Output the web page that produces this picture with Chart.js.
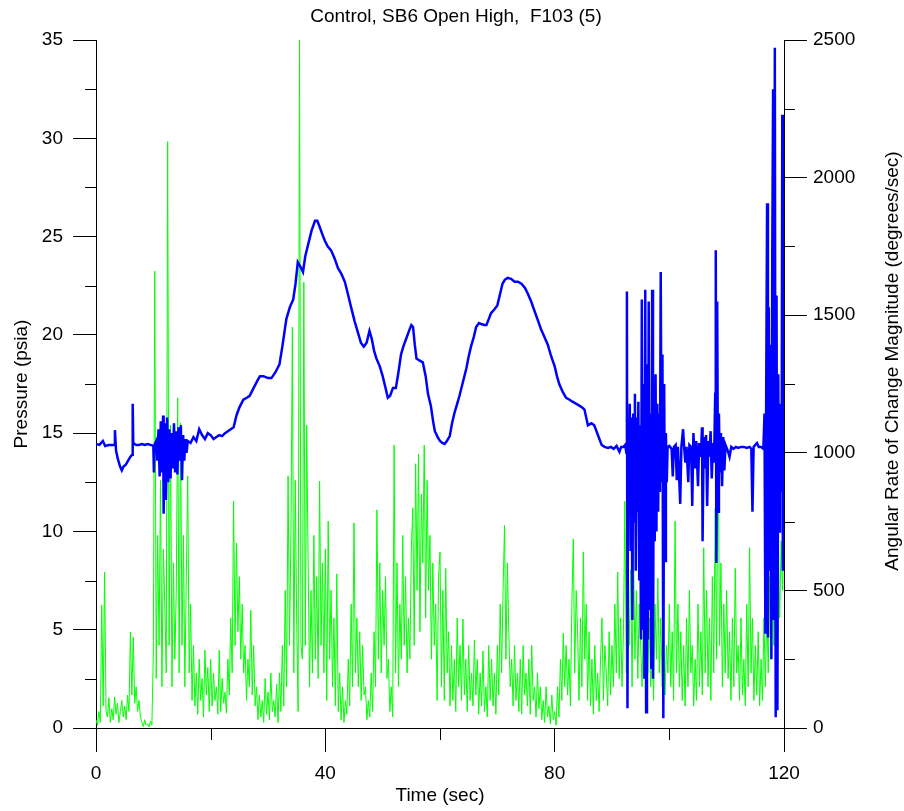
<!DOCTYPE html>
<html>
<head>
<meta charset="utf-8">
<script src="https://cdn.jsdelivr.net/npm/chart.js@4.4.0/dist/chart.umd.min.js"></script>
<style>
  html, body { margin: 0; padding: 0; background: #fff; }
</style>
</head>
<body>
<canvas id="chartF103" width="904" height="811"></canvas>
<script>
const chartTitle = 'Control, SB6 Open High,  F103 (5)';
const xTitle = 'Time (sec)';
const yTitle = 'Pressure (psia)';
const y2Title = 'Angular Rate of Change Magnitude (degrees/sec)';

// pressure trace, [time (sec), psia]
const pressureTrace = [
  [0,14.45],[0.6,14.4],[1.2,14.6],[1.6,14.35],[2.2,14.4],[2.8,14.4],[3.2,14.4],[3.3,15.15],[3.5,14.1],[3.8,13.7],
  [4.2,13.3],[4.5,13.1],[4.8,13.3],[5.2,13.4],[5.6,13.6],[6.0,13.8],[6.3,13.9],[6.4,16.5],[6.5,14.5],[7.0,14.4],
  [7.5,14.4],[8.0,14.45],[8.5,14.4],[9.0,14.45],[9.5,14.4],[10.0,14.35],[10.1,13.0],[10.2,14.4],[10.5,14.6],[10.7,13.6],
  [10.9,15.2],[11.1,12.8],[11.3,15.6],[11.5,13.0],[11.7,15.9],[11.8,10.9],[12.0,15.5],[12.2,11.6],[12.4,15.8],[12.6,12.5],
  [12.8,15.2],[13.0,12.7],[13.2,15.0],[13.4,13.2],[13.6,15.5],[13.8,13.0],[14.0,15.1],[14.2,12.9],[14.4,15.3],[14.6,13.6],
  [14.8,15.4],[15.0,12.6],[15.2,14.9],[15.4,13.6],[15.6,14.7],[15.8,14.0],[16.0,14.6],[16.5,14.5],[17.0,14.8],[17.5,14.6],
  [18.0,15.2],[18.5,14.9],[19.0,14.7],[19.5,15.0],[20.0,14.9],[20.5,14.7],[21.0,14.8],[21.5,14.9],[22.0,14.85],[22.5,15.0],
  [23.0,15.1],[23.5,15.2],[24.0,15.3],[24.5,15.9],[25.0,16.3],[25.7,16.7],[26.3,16.8],[26.8,16.9],[27.5,17.3],[28.2,17.7],
  [28.6,17.9],[29.2,17.9],[30.0,17.8],[30.6,17.8],[31.3,18.1],[32.0,18.5],[32.5,19.4],[33.2,20.8],[33.8,21.4],[34.4,21.8],
  [34.8,22.6],[35.2,23.7],[35.6,23.5],[36.1,23.2],[36.5,24.0],[37.0,24.6],[37.6,25.3],[38.2,25.8],[38.6,25.8],[39.0,25.5],
  [39.5,25.1],[39.9,24.8],[40.4,24.5],[41.0,24.3],[41.6,23.9],[42.2,23.4],[42.8,23.1],[43.4,22.7],[44.0,22.0],[44.5,21.4],
  [45.1,20.7],[45.7,20.1],[46.2,19.6],[46.7,19.4],[47.2,19.6],[47.7,20.2],[48.1,19.8],[48.5,19.2],[48.9,18.8],[49.5,18.4],
  [50.0,17.9],[50.5,17.3],[50.9,16.8],[51.3,16.9],[51.8,17.3],[52.3,17.3],[52.7,18.0],[53.2,19.0],[53.6,19.4],[54.1,19.8],
  [54.6,20.2],[55.0,20.5],[55.3,20.4],[55.6,19.5],[55.9,18.8],[56.4,18.7],[57.0,18.6],[57.5,17.9],[57.9,17.0],[58.4,16.4],
  [58.8,15.6],[59.1,15.1],[59.6,14.8],[60.0,14.6],[60.4,14.5],[60.8,14.45],[61.2,14.6],[61.7,14.85],[62.1,15.5],[62.5,16.0],
  [63.0,16.5],[63.4,16.9],[64.0,17.6],[64.6,18.3],[65.0,18.9],[65.4,19.4],[65.9,19.9],[66.3,20.4],[66.8,20.6],[67.2,20.55],
  [67.7,20.5],[68.1,20.5],[68.5,20.8],[68.9,21.1],[69.5,21.3],[70.0,21.5],[70.5,22.1],[70.9,22.6],[71.3,22.8],[71.8,22.9],
  [72.4,22.85],[73.0,22.7],[73.6,22.7],[74.2,22.6],[74.8,22.4],[75.3,22.1],[75.9,21.7],[76.5,21.2],[77.0,20.8],[77.6,20.3],
  [78.2,19.9],[78.8,19.5],[79.4,18.9],[80.0,18.4],[80.4,17.9],[80.8,17.5],[81.4,17.1],[82.0,16.8],[82.6,16.7],[83.1,16.6],
  [83.7,16.5],[84.3,16.4],[84.8,16.3],[85.2,16.2],[85.5,15.8],[85.8,15.4],[86.4,15.5],[86.9,15.4],[87.3,15.1],[87.8,14.7],
  [88.2,14.4],[88.7,14.3],[89.3,14.25],[89.8,14.3],[90.3,14.2],[90.8,14.35],[91.3,14.05],[91.6,14.3],[92.0,14.3],[92.3,14.4],
  [92.5,14.0],[92.6,22.2],[92.7,1.0],[92.8,14.3],[92.95,12.0],[93.1,16.5],[93.25,9.0],[93.4,15.8],[93.55,5.5],[93.7,16.0],
  [93.85,10.5],[94.0,17.0],[94.15,8.0],[94.3,15.8],[94.45,11.0],[94.6,16.6],[94.75,7.5],[94.9,15.4],[95.05,4.5],[95.2,21.8],
  [95.35,5.0],[95.5,17.5],[95.65,2.5],[95.8,22.3],[95.95,0.8],[96.1,18.5],[96.25,4.5],[96.4,21.7],[96.55,6.0],[96.7,16.0],
  [96.85,3.0],[97.0,22.3],[97.15,2.5],[97.3,17.0],[97.45,9.5],[97.6,18.0],[97.75,10.0],[97.9,16.5],[98.05,11.0],[98.2,16.0],
  [98.35,12.0],[98.5,23.2],[98.65,12.5],[98.8,19.0],[98.95,0.5],[99.1,17.5],[99.25,8.5],[99.4,15.0],[99.55,12.5],[99.7,14.3],
  [100.0,14.35],[100.4,14.2],[100.6,12.8],[100.8,14.3],[101.1,14.4],[101.3,12.6],[101.5,14.3],[101.9,11.4],[102.1,14.3],[102.4,15.2],
  [102.6,14.2],[102.8,13.5],[103.0,14.3],[103.3,12.5],[103.5,14.4],[103.8,14.3],[104.0,11.3],[104.2,15.0],[104.5,13.2],[104.7,14.6],
  [105.0,12.3],[105.2,14.5],[105.5,13.8],[105.7,15.3],[105.8,9.5],[106.0,14.8],[106.2,13.2],[106.4,14.9],[106.6,11.3],[106.8,14.6],
  [107.0,13.8],[107.2,15.1],[107.4,12.7],[107.6,14.5],[107.8,13.5],[108.0,17.0],[108.1,24.3],[108.2,8.4],[108.35,21.7],[108.5,11.0],
  [108.65,16.0],[108.8,13.0],[109.0,15.0],[109.2,12.3],[109.4,14.8],[109.6,13.1],[109.8,14.4],[110.2,14.1],[110.5,13.8],[110.8,14.3],
  [111.2,14.2],[111.6,14.3],[112.0,14.25],[112.5,14.3],[113.0,14.3],[113.5,14.25],[114.0,14.3],[114.3,14.2],[114.5,11.0],[114.7,14.3],
  [115.0,14.4],[115.3,14.5],[115.6,14.3],[116.0,14.3],[116.4,14.2],[116.6,16.0],[116.75,4.8],[116.9,17.5],[117.05,26.7],[117.2,4.6],
  [117.35,21.4],[117.5,8.0],[117.65,19.5],[117.8,3.5],[117.95,24.0],[118.1,32.5],[118.25,5.5],[118.4,34.6],[118.55,0.55],[118.7,22.0],
  [118.85,0.9],[119.0,18.0],[119.15,10.0],[119.3,16.5],[119.45,12.0],[119.6,15.0],[119.7,31.2],[119.8,8.0],[119.9,14.3],[120.0,14.3]
];

// angular rate magnitude (deg/sec), sampled every 0.25 sec from t = 0
const rateStep = 0.25;
const angularRate = [
  30,10,60,20, 447,80,567,60, 40,110,20,70, 30,113,50,90, 20,60,100,40,
  80,30,120,60, 349,120,330,90, 150,60,100,40, 20,5,30,10, 15,4,25,10,
  270,1660,180,700, 300,900,150,650, 450,200,2131,300, 1100,150,600,250, 500,1200,200,1108,
  300,700,150,550, 916,200,450,100, 300,80,200,50, 250,100,180,40, 283,120,220,60,
  250,80,200,100, 150,50,283,60, 180,90,130,54, 250,120,400,200, 825,300,672,350,
  550,250,450,200, 300,100,250,150, 428,120,300,80, 150,30,120,40, 100,20,180,50,
  130,30,200,60, 100,40,160,20, 200,60,300,80, 500,150,916,300, 700,1457,200,900,
  400,60,2500,300, 250,1620,300,1100, 600,150,500,200, 700,250,550,180, 897,300,600,200,
  650,100,752,250, 500,150,400,80, 560,60,200,30, 150,20,100,50, 250,80,450,150,
  745,200,400,150, 350,100,300,120, 150,30,100,40, 200,60,350,150, 793,250,600,200,
  500,300,550,180, 250,60,150,40, 1028,200,600,150, 450,250,700,300, 550,200,400,250,
  650,800,300,960, 500,996,350,850, 600,1028,400,900, 500,700,250,600, 300,450,100,550,
  640,150,500,100, 580,200,350,80, 300,100,250,60, 400,150,300,100, 396,120,250,60,
  300,100,200,80, 320,120,250,50, 200,80,280,60, 150,40,300,100, 250,80,200,50,
  300,120,450,200, 500,736,250,600, 350,150,250,80, 300,100,200,60, 250,50,300,120,
  200,80,250,50, 300,100,150,40, 200,70,150,30, 100,20,150,40, 80,15,120,30,
  60,10,150,40, 250,100,345,150, 300,120,250,80, 450,687,200,500, 350,100,400,150,
  640,250,450,100, 350,80,250,50, 300,100,200,60, 250,400,100,300, 200,80,350,120,
  300,150,450,200, 567,180,400,150, 350,824,200,600, 300,575,150,650, 250,500,180,450,
  300,150,450,200, 597,200,400,150, 350,100,450,250, 545,200,400,150, 350,120,300,200,
  450,150,350,100, 752,200,450,150, 350,100,300,80, 400,150,500,200, 300,80,250,100,
  450,150,350,120, 655,200,500,150, 400,100,550,200, 800,250,1148,300, 600,150,450,200,
  500,180,350,100, 400,150,580,200, 300,100,400,120, 250,80,450,150, 655,200,400,100,
  300,120,350,80, 250,100,400,150, 450,200,550,250, 610,300,650,350, 705,400,680,500,
  700
];

const axisColor = '#000';
const fontFamily = '"Liberation Sans", Arial, sans-serif';
const tickFont = { family: fontFamily, size: 19 };

// short minor ticks + titles (right title reads bottom-to-top like the left one)
const extras = {
  id: 'extras',
  afterDraw(chart) {
    const c = chart.ctx;
    const area = chart.chartArea;
    const { x, y, y2 } = chart.scales;
    c.save();
    c.strokeStyle = axisColor;
    c.lineWidth = 1;
    c.beginPath();
    y.ticks.forEach(t => {
      if (t.value % 5 !== 0) {
        const p = Math.round(y.getPixelForValue(t.value)) + 0.5;
        c.moveTo(area.left - 11, p); c.lineTo(area.left, p);
      }
    });
    y2.ticks.forEach(t => {
      if (t.value % 500 !== 0) {
        const p = Math.round(y2.getPixelForValue(t.value)) + 0.5;
        c.moveTo(area.right, p); c.lineTo(area.right + 11, p);
      }
    });
    x.ticks.forEach(t => {
      if (t.value % 40 !== 0) {
        const p = Math.round(x.getPixelForValue(t.value)) + 0.5;
        c.moveTo(p, area.bottom); c.lineTo(p, area.bottom + 12);
      }
    });
    c.stroke();

    c.fillStyle = '#000';
    c.font = '19px ' + fontFamily;
    c.textAlign = 'center';
    c.textBaseline = 'middle';
    c.fillText(chartTitle, 456, 17);
    c.fillText(xTitle, (area.left + area.right) / 2, 796);
    c.translate(22, (area.top + area.bottom) / 2);
    c.rotate(-Math.PI / 2);
    c.fillText(yTitle, 0, 0);
    c.rotate(Math.PI / 2);
    c.translate(893 - 22, 361 - (area.top + area.bottom) / 2);
    c.rotate(-Math.PI / 2);
    c.fillText(y2Title, 0, 0);
    c.restore();
  }
};

const ctx = document.getElementById('chartF103').getContext('2d');

const myChart = new Chart(ctx, {
  type: 'line',
  data: {
    datasets: [
      {
        label: 'Pressure',
        data: pressureTrace.map(p => ({ x: p[0], y: p[1] })),
        yAxisID: 'y',
        borderColor: '#0000ff',
        borderWidth: 2.5,
        pointRadius: 0,
        tension: 0,
        order: 0
      },
      {
        label: 'Angular Rate',
        data: angularRate.map((v, i) => ({ x: i * rateStep, y: v })),
        yAxisID: 'y2',
        borderColor: '#00ff00',
        borderWidth: 1,
        pointRadius: 0,
        tension: 0,
        order: 1
      }
    ]
  },
  options: {
    responsive: false,
    animation: false,
    events: [],
    layout: { padding: { top: 40, left: 0, right: 0, bottom: 0 } },
    plugins: {
      legend: { display: false },
      title: { display: false },
      tooltip: { enabled: false }
    },
    scales: {
      x: {
        type: 'linear',
        min: 0,
        max: 120,
        afterFit: s => { s.height = 83; },
        border: { display: true, color: axisColor, width: 1 },
        grid: {
          drawOnChartArea: false,
          tickLength: 24,
          tickColor: c => (c.tick && c.tick.value % 40 === 0) ? axisColor : 'rgba(0,0,0,0)'
        },
        ticks: {
          stepSize: 20,
          autoSkip: false,
          maxRotation: 0,
          padding: 10,
          color: '#000',
          font: tickFont,
          callback: v => (v % 40 === 0 ? v : '')
        }
      },
      y: {
        type: 'linear',
        position: 'left',
        min: 0,
        max: 35,
        afterFit: s => { s.width = 96; },
        border: { display: true, color: axisColor, width: 1 },
        grid: {
          drawOnChartArea: false,
          tickLength: 23,
          tickColor: c => (c.tick && c.tick.value % 5 === 0) ? axisColor : 'rgba(0,0,0,0)'
        },
        ticks: {
          stepSize: 2.5,
          autoSkip: false,
          padding: 10,
          color: '#000',
          font: tickFont,
          callback: v => (v % 5 === 0 ? v : '')
        }
      },
      y2: {
        type: 'linear',
        position: 'right',
        min: 0,
        max: 2500,
        afterFit: s => { s.width = 120; },
        border: { display: true, color: axisColor, width: 1 },
        grid: {
          drawOnChartArea: false,
          tickLength: 23,
          tickColor: c => (c.tick && c.tick.value % 500 === 0) ? axisColor : 'rgba(0,0,0,0)'
        },
        ticks: {
          stepSize: 250,
          autoSkip: false,
          padding: 6,
          color: '#000',
          font: tickFont,
          callback: v => (v % 500 === 0 ? v : '')
        }
      }
    }
  },
  plugins: [extras]
});
</script>
</body>
</html>
